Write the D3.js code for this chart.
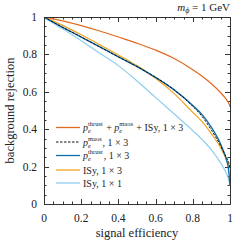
<!DOCTYPE html>
<html>
<head>
<meta charset="utf-8">
<script src="https://cdn.jsdelivr.net/npm/d3@7"></script>
<style>
  html, body { margin: 0; padding: 0; background: #fff; }
  svg text { font-family: "Liberation Serif", "DejaVu Serif", "Times New Roman", serif; fill: #222; }
</style>
</head>
<body>
<div id="chart"></div>
<script>
// signal efficiency grid and background rejection for each tagger
const effGrid = [0, 0.05, 0.1, 0.2, 0.3, 0.4, 0.5, 0.6, 0.7, 0.8, 0.85, 0.9, 0.95, 0.97, 0.98, 0.99, 0.995, 1];

const rejCombined = [1, 0.99, 0.979, 0.954, 0.925, 0.893, 0.86, 0.823, 0.778, 0.718, 0.683, 0.643, 0.595, 0.573, 0.56, 0.545, 0.535, 0.52];
const rejMaos     = [1, 0.972, 0.945, 0.893, 0.84, 0.787, 0.735, 0.677, 0.61, 0.522, 0.468, 0.395, 0.31, 0.27, 0.25, 0.23, 0.215, 0.19];
const rejThrust   = [1, 0.972, 0.945, 0.893, 0.84, 0.787, 0.735, 0.677, 0.61, 0.527, 0.478, 0.41, 0.32, 0.27, 0.24, 0.2, 0.16, 0.1];
const rejISy13    = [1, 0.978, 0.955, 0.905, 0.852, 0.797, 0.74, 0.672, 0.59, 0.49, 0.44, 0.375, 0.3, 0.26, 0.24, 0.22, 0.205, 0.19];
const rejISy11    = [1, 0.966, 0.937, 0.873, 0.806, 0.74, 0.658, 0.57, 0.481, 0.392, 0.345, 0.29, 0.22, 0.185, 0.165, 0.14, 0.12, 0.1];

const xTicks = [0, 0.2, 0.4, 0.6, 0.8, 1];
const yTicks = [0, 0.2, 0.4, 0.6, 0.8, 1];

const series = [
    {name: 'isy11',    values: rejISy11,    color: '#8fcdef', dash: null,  width: 1.2},
    {name: 'isy13',    values: rejISy13,    color: '#f3a21c', dash: null,  width: 1.2},
    {name: 'thrust',   values: rejThrust,   color: '#0f6fae', dash: null,  width: 1.4},
    {name: 'maos',     values: rejMaos,     color: '#111',    dash: '2.5,1.5', width: 1},
    {name: 'combined', values: rejCombined, color: '#e06a1e', dash: null,  width: 1.2},
];

const width = 249, height = 249;
const margin = {top: 17, right: 19, bottom: 45, left: 44};
const innerW = width - margin.left - margin.right;
const innerH = height - margin.top - margin.bottom;
const serif = '"Liberation Serif", "DejaVu Serif", "Times New Roman", serif';

const svg = d3.select('#chart')
    .append('svg')
    .attr('width', width)
    .attr('height', height)
    .attr('font-family', serif);

const g = svg.append('g')
    .attr('transform', `translate(${margin.left},${margin.top})`);

const x = d3.scaleLinear().domain([0, 1]).range([0, innerW]);
const y = d3.scaleLinear().domain([0, 1]).range([innerH, 0]);

// ticks on all four sides, pointing inward
const minor = d3.range(0, 1.0001, 0.05);
const axisColor = '#333';

function tickMarks(vals, len, cls) {
    const t = g.append('g').attr('class', cls).attr('stroke', axisColor).attr('stroke-width', 1);
    vals.forEach(v => {
        const px = Math.round(x(v)) + 0.5, py = Math.round(y(v)) + 0.5;
        t.append('line').attr('x1', px).attr('x2', px).attr('y1', innerH).attr('y2', innerH - len);
        t.append('line').attr('x1', px).attr('x2', px).attr('y1', 0).attr('y2', len);
        t.append('line').attr('x1', 0).attr('x2', len).attr('y1', py).attr('y2', py);
        t.append('line').attr('x1', innerW).attr('x2', innerW - len).attr('y1', py).attr('y2', py);
    });
}
tickMarks(minor, 2.5, 'minor');
tickMarks(xTicks, 5, 'major');

// curves
const line = d3.line()
    .x((d, i) => x(effGrid[i]))
    .y(d => y(d))
    .curve(d3.curveMonotoneX);

g.append('defs').append('clipPath').attr('id', 'clip')
    .append('rect').attr('width', innerW).attr('height', innerH);

g.append('g').attr('clip-path', 'url(#clip)')
    .selectAll('path')
    .data(series)
    .enter()
    .append('path')
    .attr('fill', 'none')
    .attr('stroke', d => d.color)
    .attr('stroke-width', d => d.width)
    .attr('stroke-dasharray', d => d.dash)
    .attr('d', d => line(d.values));

// frame
g.append('rect')
    .attr('x', 0.5).attr('y', 0.5)
    .attr('width', innerW).attr('height', innerH)
    .attr('fill', 'none')
    .attr('stroke', axisColor)
    .attr('stroke-width', 1);

// tick labels
g.selectAll('.xl').data(xTicks).enter().append('text')
    .attr('x', d => x(d)).attr('y', innerH + 18)
    .attr('text-anchor', 'middle')
    .attr('font-size', 11.5)
    .text(d => d3.format('~g')(d));

g.selectAll('.yl').data(yTicks).enter().append('text')
    .attr('x', -7).attr('y', d => y(d) + 4)
    .attr('text-anchor', 'end')
    .attr('font-size', 11.5)
    .text(d => d3.format('~g')(d));

// axis titles
svg.append('text')
    .attr('x', margin.left + innerW / 2).attr('y', 237)
    .attr('text-anchor', 'middle')
    .attr('font-size', 12.5)
    .text('signal efficiency');

svg.append('text')
    .attr('transform', `translate(14,${margin.top + innerH / 2}) rotate(-90)`)
    .attr('text-anchor', 'middle')
    .attr('font-size', 12.5)
    .text('background rejection');

// mass label
const mt = svg.append('text')
    .attr('x', 230).attr('y', 11)
    .attr('text-anchor', 'end')
    .attr('font-size', 11);
mt.append('tspan').attr('font-style', 'italic').text('m');
mt.append('tspan').attr('font-style', 'italic').attr('font-size', 8).attr('dy', 2).text('\u03d5');
mt.append('tspan').attr('dy', -2).text(' = 1 GeV');

// legend
const legendRows = [
    {color: '#e06a1e', dash: null, parts: ['thrust', 'maos'], suffix: ' + ISy, 1 \u00d7 3'},
    {color: '#111', dash: '2.5,1.5', parts: ['maos'], suffix: ', 1 \u00d7 3'},
    {color: '#0f6fae', dash: null, parts: ['thrust'], suffix: ', 1 \u00d7 3'},
    {color: '#f3a21c', dash: null, parts: [], suffix: 'ISy, 1 \u00d7 3'},
    {color: '#8fcdef', dash: null, parts: [], suffix: 'ISy, 1 \u00d7 1'},
];
const legendY = [127.5, 142, 155.5, 170, 183];

const legend = svg.append('g');
legendRows.forEach((row, i) => {
    const ly = legendY[i];
    legend.append('line')
        .attr('x1', 56).attr('x2', 80)
        .attr('y1', ly).attr('y2', ly)
        .attr('stroke', row.color)
        .attr('stroke-width', row.dash ? 1 : 1.3)
        .attr('stroke-dasharray', row.dash);
    const t = legend.append('text')
        .attr('x', 83).attr('y', ly + 3.5)
        .attr('font-size', 10);
    row.parts.forEach((p, j) => {
        if (j > 0) t.append('tspan').text(' + ');
        t.append('tspan').attr('font-style', 'italic').text('p');
        t.append('tspan').attr('font-style', 'italic').attr('font-size', 6.5).attr('dy', 2).text('e');
        t.append('tspan').attr('font-size', 6.5).attr('dx', -2.9).attr('dy', -7).text(p);
        t.append('tspan').attr('dy', 5).text('\u200a');
    });
    t.append('tspan').text(row.suffix);
});
</script>
</body>
</html>
